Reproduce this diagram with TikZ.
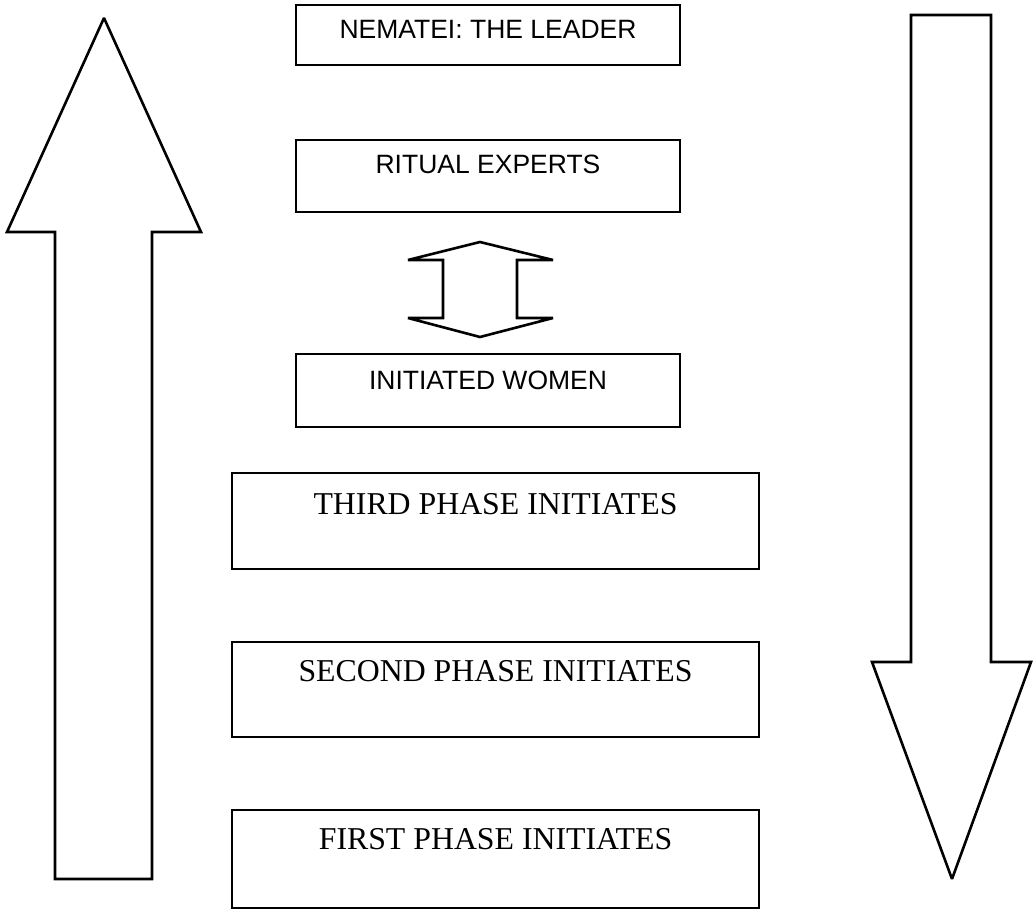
\documentclass[tikz,border=0pt]{standalone}
\usepackage{fontspec}
\newfontfamily\arialf{Liberation Sans}
\newfontfamily\timesf{Liberation Serif}
\begin{document}
\begin{tikzpicture}[x=1pt,y=-1pt,
  line join=miter, miter limit=2,
  box/.style={draw, line width=2.6pt, rectangle, inner sep=0pt},
  upbox/.style={box, minimum width=384pt},
  lowbox/.style={box, minimum width=527pt},
  sanslabel/.style={anchor=base, inner sep=0pt, font=\arialf\fontsize{26.5}{30}\selectfont},
  seriflabel/.style={anchor=base, inner sep=0pt, font=\timesf\fontsize{31.8}{36}\selectfont},
  blockarrow/.style={draw, line width=2.6pt, fill=white}]
\useasboundingbox (0,0) rectangle (1033,912);

% upper boxes
\node[upbox, minimum height=60pt] (lead) at (488,35) {};
\node[upbox, minimum height=72pt] (expert) at (488,176) {};
\node[upbox, minimum height=73pt] (women) at (488,390.5) {};
% lower boxes
\node[lowbox, minimum height=96pt] (third) at (495.5,521) {};
\node[lowbox, minimum height=95pt] (second) at (495.5,689.5) {};
\node[lowbox, minimum height=98pt] (first) at (495.5,859) {};

% labels
\node[sanslabel] (leadtxt) at ([yshift=-35pt]lead.north) {NEMATEI: THE LEADER};
\node[sanslabel] (experttxt) at ([yshift=-35pt]expert.north) {RITUAL EXPERTS};
\node[sanslabel] (womentxt) at ([yshift=-37pt]women.north) {INITIATED WOMEN};
\node[seriflabel] (thirdtxt) at ([yshift=-43pt]third.north) {THIRD PHASE INITIATES};
\node[seriflabel] (secondtxt) at ([yshift=-41pt]second.north) {SECOND PHASE INITIATES};
\node[seriflabel] (firsttxt) at ([yshift=-41pt]first.north) {FIRST PHASE INITIATES};

% two-way arrow between ritual experts and initiated women
\draw[blockarrow] (480,242) -- (553,260) -- (517,260) -- (517,318) -- (553,318)
  -- (480,337) -- (408,318) -- (443,318) -- (443,260) -- (408,260) -- cycle;

% large upward arrow on the left
\draw[blockarrow] (104,18) -- (201,232) -- (152,232) -- (152,879) -- (55,879)
  -- (55,232) -- (7,232) -- cycle;

% large downward arrow on the right
\draw[blockarrow] (911,15) -- (991,15) -- (991,662) -- (1031,662) -- (952,879)
  -- (872,662) -- (911,662) -- cycle;
\end{tikzpicture}
\end{document}
